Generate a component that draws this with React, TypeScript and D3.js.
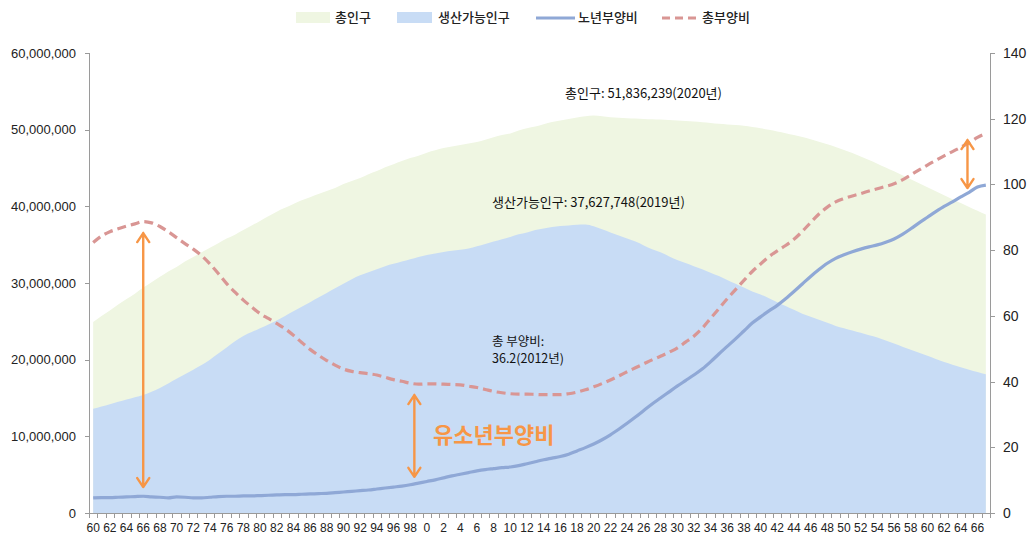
import React from "react";
import * as d3 from "d3";

// years 1960 ~ 2067
const years: number[] = d3.range(1960, 2068);

// 총인구 (백만 명)
const totalPop: number[] = [
  24.9, 25.7, 26.4, 27.2, 27.9, 28.6, 29.4, 30.1, 30.8, 31.5,
  32.1, 32.8, 33.4, 34.0, 34.6, 35.2, 35.8, 36.3, 36.9, 37.5,
  38.1, 38.7, 39.3, 39.8, 40.3, 40.8, 41.2, 41.6, 42.0, 42.4,
  42.9, 43.3, 43.7, 44.2, 44.6, 45.1, 45.5, 45.9, 46.3, 46.6,
  47.0, 47.3, 47.6, 47.8, 48.0, 48.2, 48.4, 48.7, 49.0, 49.3,
  49.5, 49.9, 50.2, 50.4, 50.7, 51.0, 51.2, 51.4, 51.6, 51.75,
  51.84, 51.74, 51.63, 51.56, 51.5, 51.45, 51.4, 51.36, 51.32, 51.27,
  51.2, 51.13, 51.05, 50.96, 50.87, 50.77, 50.68, 50.6, 50.5, 50.35,
  50.19, 49.99, 49.77, 49.54, 49.29, 49.03, 48.75, 48.44, 48.11, 47.75,
  47.36, 46.95, 46.51, 46.05, 45.57, 45.07, 44.56, 44.04, 43.52, 43.0,
  42.48, 41.97, 41.45, 40.94, 40.43, 39.92, 39.42, 38.92,
];

// 생산가능인구 (백만 명)
const workingPop: number[] = [
  13.6, 13.9, 14.2, 14.5, 14.8, 15.1, 15.4, 15.8, 16.3, 16.9,
  17.5, 18.1, 18.7, 19.3, 20.0, 20.8, 21.6, 22.4, 23.1, 23.6,
  24.1, 24.6, 25.1, 25.7, 26.3, 26.9, 27.5, 28.1, 28.7, 29.3,
  29.9, 30.5, 31.0, 31.4, 31.8, 32.2, 32.5, 32.8, 33.1, 33.4,
  33.65, 33.85, 34.05, 34.2, 34.35, 34.5, 34.8, 35.1, 35.4, 35.7,
  36.0, 36.35, 36.6, 36.9, 37.1, 37.3, 37.45, 37.5, 37.6, 37.63,
  37.4, 37.0, 36.6, 36.2, 35.8, 35.4, 34.9, 34.4, 34.0, 33.5,
  33.0, 32.6, 32.2, 31.8, 31.35, 30.9, 30.4, 29.9, 29.4, 28.9,
  28.5, 28.0, 27.5, 27.0, 26.5, 26.0, 25.6, 25.2, 24.8, 24.4,
  24.1, 23.8, 23.5, 23.2, 22.9, 22.5, 22.1, 21.7, 21.3, 20.9,
  20.5, 20.1, 19.7, 19.35, 19.0, 18.7, 18.4, 18.1,
];

// 노년부양비
const oldRatio: number[] = [
  4.6, 4.7, 4.7, 4.8, 4.9, 5.0, 5.1, 4.9, 4.8, 4.6,
  4.9, 4.8, 4.6, 4.6, 4.8, 5.0, 5.1, 5.1, 5.2, 5.2,
  5.3, 5.4, 5.5, 5.6, 5.6, 5.7, 5.8, 5.9, 6.0, 6.2,
  6.4, 6.6, 6.8, 7.0, 7.3, 7.6, 7.9, 8.2, 8.6, 9.1,
  9.6, 10.1, 10.7, 11.3, 11.8, 12.3, 12.8, 13.2, 13.5, 13.8,
  14.0, 14.4, 15.0, 15.6, 16.2, 16.7, 17.2, 17.9, 18.9, 19.9,
  21.0, 22.3, 23.8, 25.5, 27.3, 29.2, 31.2, 33.2, 35.0, 36.8,
  38.6, 40.3, 42.0, 43.8, 46.0, 48.4, 50.7, 53.0, 55.4, 57.8,
  59.7, 61.5, 63.2, 65.2, 67.4, 69.7, 72.0, 74.1, 76.0, 77.5,
  78.6, 79.5, 80.3, 81.0, 81.6, 82.4, 83.4, 84.8, 86.5, 88.3,
  90.0, 91.7, 93.3, 94.7, 96.2, 97.6, 99.2, 99.8,
];

// 총부양비
const totalRatio: number[] = [
  82.3, 84.3, 85.6, 86.5, 87.3, 88.0, 88.7, 88.3, 87.2, 85.6,
  83.8, 82.0, 80.3, 78.3, 75.8, 72.9, 69.8, 67.2, 64.8, 62.7,
  60.7, 59.2, 57.7, 56.1, 54.1, 51.9, 49.8, 48.0, 46.4, 45.0,
  43.8, 43.1, 42.7, 42.4, 42.0, 41.3, 40.6, 40.1, 39.5, 39.2,
  39.3, 39.3, 39.2, 39.1, 39.0, 38.6, 38.2, 37.6, 37.0, 36.6,
  36.3, 36.2, 36.2, 36.1, 36.0, 36.0, 36.0, 36.3, 36.8, 37.5,
  38.4, 39.4, 40.5, 41.7, 43.0, 44.2, 45.4, 46.6, 47.7, 48.9,
  50.2, 52.0, 53.8, 56.2, 59.2, 62.2, 65.2, 68.0, 70.8, 73.5,
  75.8, 78.0, 79.8, 81.4, 83.3, 85.7, 88.4, 91.0, 93.1, 94.7,
  95.7, 96.5, 97.2, 98.0, 98.7, 99.4, 100.2, 101.4, 102.9, 104.4,
  105.9, 107.3, 108.7, 110.0, 111.3, 112.7, 114.3, 115.5,
];

const leftTicks: number[] = [0, 10e6, 20e6, 30e6, 40e6, 50e6, 60e6];
const rightTicks: number[] = [0, 20, 40, 60, 80, 100, 120, 140];

// 화살표 (연도, 시작값, 끝값 - 오른쪽 축 기준)
const arrowYears: number[] = [1966, 1998.5, 2064.8];
const arrowFrom: number[] = [85.2, 35.9, 113.5];
const arrowTo: number[] = [7.9, 11.0, 98.9];

const W = 1034;
const H = 537;
const KR = "'Noto Sans CJK KR', 'Noto Sans', sans-serif";
const NUM = "'Liberation Sans', Arial, sans-serif";
const ORANGE = "#F79646";

const App: React.FC = () => {
  const x = d3.scaleLinear().domain([1959.5, 2067.5]).range([89, 990]);
  const yL = d3.scaleLinear().domain([0, 60e6]).range([513, 53]);
  const yR = d3.scaleLinear().domain([0, 140]).range([513, 53]);

  const areaTotal = d3
    .area<number>()
    .x((_, i) => x(years[i]))
    .y0(yL(0))
    .y1((d) => yL(d * 1e6))
    .curve(d3.curveMonotoneX);

  const line = d3
    .line<number>()
    .x((_, i) => x(years[i]))
    .y((d) => yR(d))
    .curve(d3.curveMonotoneX);

  const tickBounds = d3.range(1959.5, 2068, 1);
  const fmt = d3.format(",");

  const arrowPath = (xx: number, y1: number, y2: number) => {
    const h = 9;
    const w = 6;
    return (
      `M${xx},${y1}L${xx},${y2}` +
      `M${xx - w},${y1 + h}L${xx},${y1}L${xx + w},${y1 + h}` +
      `M${xx - w},${y2 - h}L${xx},${y2}L${xx + w},${y2 - h}`
    );
  };

  return (
    <svg
      width={W}
      height={H}
      style={{ position: "absolute", left: 0, top: 0, background: "#fff" }}
    >
      {/* legend */}
      <g fontFamily={KR} fontSize={13} fill="#222" fontWeight={500}>
        <rect x={296} y={12} width={34} height={11} fill="#EFF6E2" />
        <text x={335} y={22}>총인구</text>
        <rect x={397} y={12} width={35} height={11} fill="#C8DCF5" />
        <text x={438} y={22}>생산가능인구</text>
        <line x1={536} x2={575} y1={18} y2={18} stroke="#8FA8D6" strokeWidth={3} />
        <text x={578} y={22}>노년부양비</text>
        <line
          x1={662}
          x2={698}
          y1={18}
          y2={18}
          stroke="#D99694"
          strokeWidth={3}
          strokeDasharray="8,5"
        />
        <text x={702} y={22}>총부양비</text>
      </g>

      {/* areas */}
      <path d={areaTotal(totalPop) ?? ""} fill="#EFF6E2" />
      <path d={areaTotal(workingPop) ?? ""} fill="#C8DCF5" />

      {/* axes */}
      <g stroke="#9a9a9a" strokeWidth={1} fill="none">
        <line x1={89.5} x2={89.5} y1={53} y2={514} />
        <line x1={990.5} x2={990.5} y1={53} y2={514} />
        <line x1={89} x2={991} y1={513.5} y2={513.5} />
        {leftTicks.map((t) => (
          <line key={"l" + t} x1={85} x2={89.5} y1={Math.round(yL(t)) + 0.5} y2={Math.round(yL(t)) + 0.5} />
        ))}
        {rightTicks.map((t) => (
          <line key={"r" + t} x1={990.5} x2={995} y1={Math.round(yR(t)) + 0.5} y2={Math.round(yR(t)) + 0.5} />
        ))}
        {tickBounds.map((b) => (
          <line key={"x" + b} x1={Math.round(x(b)) + 0.5} x2={Math.round(x(b)) + 0.5} y1={513.5} y2={518} />
        ))}
      </g>

      <g fontFamily={NUM} fontSize={13} fill="#222" textAnchor="end">
        {leftTicks.map((t) => (
          <text key={"lt" + t} x={76} y={yL(t) + 4.5}>
            {fmt(t)}
          </text>
        ))}
      </g>
      <g fontFamily={NUM} fontSize={14} fill="#222">
        {rightTicks.map((t) => (
          <text key={"rt" + t} x={1003} y={yR(t) + 5}>
            {t}
          </text>
        ))}
      </g>
      <g fontFamily={NUM} fontSize={12} fill="#222" textAnchor="middle">
        {years
          .filter((yr) => yr % 2 === 0)
          .map((yr) => (
            <text key={"xt" + yr} x={x(yr)} y={532}>
              {yr % 100}
            </text>
          ))}
      </g>

      {/* lines */}
      <path d={line(oldRatio) ?? ""} fill="none" stroke="#8FA8D6" strokeWidth={3.2} />
      <path
        d={line(totalRatio) ?? ""}
        fill="none"
        stroke="#D99694"
        strokeWidth={3.2}
        strokeDasharray="9,5"
      />

      {/* arrows */}
      <g stroke={ORANGE} strokeWidth={2.4} fill="none" strokeLinecap="round" strokeLinejoin="round">
        {arrowYears.map((yr, i) => (
          <path key={"a" + i} d={arrowPath(x(yr), yR(arrowFrom[i]), yR(arrowTo[i]))} />
        ))}
      </g>

      {/* annotations */}
      <g fontFamily={KR} fontSize={13} fill="#111">
        <text x={565} y={98}>총인구: 51,836,239(2020년)</text>
        <text x={492} y={207}>생산가능인구: 37,627,748(2019년)</text>
      </g>
      <text fontFamily={KR} fontSize={12.5} fill="#111" x={492} y={346}>
        <tspan x={492}>총 부양비:</tspan>
        <tspan x={492} dy={17}>36.2(2012년)</tspan>
      </text>
      <text x={433} y={443} fontFamily={KR} fontSize={22} fontWeight={700} fill={ORANGE}>
        유소년부양비
      </text>
    </svg>
  );
};

export default App;
